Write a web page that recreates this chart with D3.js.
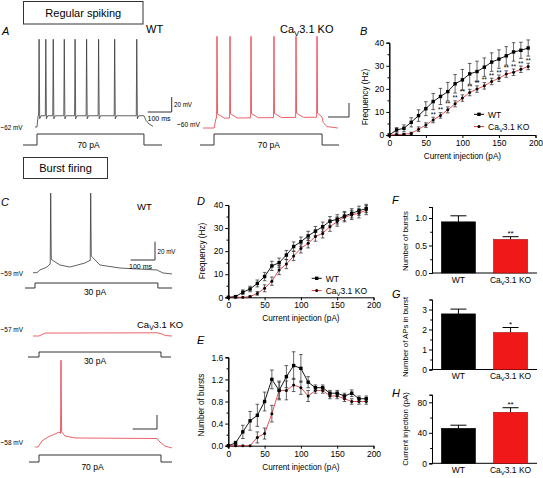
<!DOCTYPE html>
<html><head><meta charset="utf-8">
<script src="https://cdn.jsdelivr.net/npm/d3@7"></script>
<style>body{margin:0;background:#fff}svg text{font-family:"Liberation Sans",Arial,sans-serif}</style>
</head><body>
<svg id="c" width="543" height="478"></svg>
<script>
// ---------------- DATA ----------------
const currentInj = [0,10,20,30,40,50,60,70,80,90,100,110,120,130,140,150,160,170,180,190];
// B: regular spiking frequency (Hz)
const regFreqWT    = [0,2.2,2.9,5.5,8.4,11.4,14.5,16.7,18.8,22.2,23.9,26.5,27.5,29.4,31.6,32.9,34.3,36,36.7,37.7];
const regFreqWTErr = [0,1,1.5,2,2.5,3,3.5,3.5,4,4,4.5,4.5,4.5,4,4,4,4,4,3.5,3.5];
const regFreqKO    = [0,0.2,0.3,0.7,2.5,4.3,6.5,8.5,10.9,13.5,16,18.4,19.9,21.3,23.2,24.6,26.4,27.2,28.5,29.7];
const regFreqKOErr = [0,0.3,0.3,0.5,1,1,1.2,1.2,1.3,1.3,1.4,1.4,1.4,1.4,1.4,1.4,1.4,1.4,1.4,1.4];
const regFreqSig   = ["","","","","","","**","**","**","**","**","**","**","**","**","**","**","**","**","**"];
// D: burst firing frequency (Hz)
const burstFreqWT    = [0,0.3,2.2,3.6,6,9,13.6,15,18.3,22,24.1,26.6,28.7,30.6,33,33.8,35.2,36.4,37.5,38.5];
const burstFreqWTErr = [0,0.3,1,1.2,1.5,1.8,2,2,2,2,2,2,2,2,2,2,2,2,2,1.8];
const burstFreqKO    = [0,0,0,0.3,1.7,3.9,7,11.8,14.4,17.9,21.2,23.4,26.3,27.7,30.6,32.8,34.7,35.7,36.4,37.8];
const burstFreqKOErr = [0,0,0,0.3,0.8,1.5,1.8,2,2,2,2,2,2,2,2,2,2,2,2,2];
// E: number of bursts
const burstsWT    = [0,0.05,0.25,0.45,0.55,0.8,1.2,1.0,1.25,1.45,1.4,1.15,1.05,1.05,0.95,0.95,0.9,0.95,0.85,0.85];
const burstsWTErr = [0,0.03,0.12,0.17,0.2,0.17,0.17,0.15,0.2,0.25,0.25,0.1,0.05,0.05,0.05,0.05,0.05,0.06,0.05,0.05];
const burstsKO    = [0,0,0,0,0.15,0.22,0.58,1.0,1.0,1.1,1.05,0.9,1.0,1.0,0.9,0.9,0.85,0.8,0.8,0.8];
const burstsKOErr = [0,0,0,0,0.1,0.1,0.15,0.17,0.17,0.12,0.12,0.1,0.05,0.05,0.05,0.05,0.05,0.05,0.05,0.05];
// F, G, H bar charts
const groups = ["WT","KO"];
const nBursts = [0.93,0.61], nBurstsErr = [0.11,0.05], nBurstsSig = ["","**"];
const apsInBurst = [2.78,1.85], apsInBurstErr = [0.24,0.25], apsInBurstSig = ["","*"];
const burstCurrent = [45.9,66.9], burstCurrentErr = [4.1,6], burstCurrentSig = ["","**"];
// Voltage traces: subthreshold keypoints [ms, mV], spike times (ms), spike peak (mV)
const traceA_WT_base = [[0,-62],[8.3,-62],[13,-47],[454,-47],[462,-53],[475,-58],[492,-61]];
const traceA_WT_spikes = [17,45,76,122,167,215,265,332,424];
const traceA_WT_peak = 55;
const traceA_KO_base = [[0,-60],[53,-60],[62,-46],[567,-44.5],[572,-52],[590,-58],[643,-60]];
const traceA_KO_spikes = [66.7,128.6,228.6,338,443,543];
const traceA_KO_peak = 71;
const traceC_WT_base = [[0,-59],[16.5,-59],[28.8,-56],[57.6,-52.8],[70,-49.5],[111,-50.6],[152,-52.8],[214,-48.4],[234.6,-45.5],[275.7,-50.6],[358,-53.9],[510,-56],[535,-59.3],[572,-60.4]];
const traceC_WT_spikes = [72.8,237.4];
const traceC_WT_peak = 28;
const traceC_KO30_base = [[0,-57],[24.7,-57],[50,-53.8],[510,-53.5],[526.7,-54.5],[545,-56.5],[572,-57]];
const traceC_KO70_base = [[8,-58],[20.6,-58],[37,-49.4],[61.7,-43.7],[90.5,-39.4],[107,-36.6],[131.7,-42.3],[172.8,-45.1],[510,-45.9],[522.6,-50.9],[543,-56.6],[572,-59.4]];
const traceC_KO70_spikes = [115.2];
const traceC_KO70_peak = 66;
// current steps: [start, on, off, end] ms, amplitude pA
const stepA_WT = [-50,8.3,454,529], stepA_WT_amp = 70;
const stepA_KO = [-14.3,52.4,567,648], stepA_KO_amp = 70;
const stepC_WT = [-33,8.2,514,572], stepC_WT_amp = 30;
const stepC_KO30 = [-20.6,24.7,526.7,568], stepC_KO30_amp = 30;
const stepC_KO70 = [-16.5,24.7,526.7,572], stepC_KO70_amp = 70;

// ---------------- DRAW ----------------
const svg = d3.select('#c');
const RED = '#e63a42', BARRED = '#f01818', TRACEGRAY = '#3a3a3a';
const FF = '"Liberation Sans",Arial,sans-serif';

function txt(x, y, s, size, opts={}) {
  const t = svg.append('text').attr('x', x).attr('y', y).attr('font-size', size)
    .attr('text-anchor', opts.anchor || 'start').attr('fill', opts.fill || '#000');
  if (opts.italic) t.attr('font-style', 'italic');
  if (opts.len) t.attr('textLength', opts.len).attr('lengthAdjust', 'spacingAndGlyphs');
  t.text(s);
  return t;
}
function caLabel(parent, x, y, size, anchor, rotate) {
  const t = parent.append('text').attr('x', x).attr('y', y).attr('font-size', size)
    .attr('text-anchor', anchor || 'start');
  if (rotate) t.attr('transform', rotate);
  t.append('tspan').text('Ca');
  t.append('tspan').attr('font-size', size * 0.7).attr('dy', size * 0.25).text('V');
  t.append('tspan').attr('dy', -size * 0.25).text('3.1 KO');
  return t;
}

// boxes
function box(x, y, w, h, s) {
  svg.append('rect').attr('x', x).attr('y', y).attr('width', w).attr('height', h)
    .attr('fill', 'none').attr('stroke', '#333').attr('stroke-width', 1);
  txt(x + w / 2, y + h / 2 + 4, s, 11, {anchor: 'middle'});
}
box(23.5, 1.5, 119.5, 22.5, 'Regular spiking');
box(23.5, 157.5, 84, 21, 'Burst firing');

// panel letters
[['A',2,35],['B',360,35],['C',1,206],['D',197,205],['E',197,344],['F',392,204],['G',392,298],['H',392,397]]
  .forEach(([l,x,y]) => txt(x, y, l, 11, {italic: true}));

// ---- traces ----
function tracePoints(base, spikes, peak, post, rec) {
  const interp = t => {
    for (let i = 1; i < base.length; i++) {
      if (t <= base[i][0]) {
        const [t0, v0] = base[i-1], [t1, v1] = base[i];
        return v0 + (v1 - v0) * (t - t0) / (t1 - t0);
      }
    }
    return base[base.length-1][1];
  };
  let pts = base.filter(d => !spikes.some(ts => d[0] > ts - 2 && d[0] < ts + 2.5)).map(d => d.slice());
  spikes.forEach((ts, i) => {
    const bv = interp(ts);
    pts.push([ts - 2, bv], [ts, peak], [ts + 2.5, bv + post]);
    const nxt = spikes[i+1];
    if (rec && (nxt === undefined || nxt - ts > rec + 4)) pts.push([ts + rec, interp(ts + rec)]);
  });
  pts.sort((a, b) => a[0] - b[0]);
  return pts;
}
function drawTrace(pts, xs, ys, color) {
  svg.append('path').attr('d', d3.line().x(d => xs(d[0])).y(d => ys(d[1]))(pts))
    .attr('fill', 'none').attr('stroke', color).attr('stroke-width', 0.8).attr('stroke-linejoin', 'round');
}
function drawStep(step, amp, xs, yLow, yHigh, lx, ly) {
  const cs = d3.scaleLinear().domain([0, amp]).range([yLow, yHigh]);
  const pts = [[step[0],0],[step[1],0],[step[1],amp],[step[2],amp],[step[2],0],[step[3],0]];
  svg.append('path').attr('d', d3.line().x(d => xs(d[0])).y(d => cs(d[1]))(pts))
    .attr('fill', 'none').attr('stroke', '#333').attr('stroke-width', 1);
  txt(lx, ly, amp + ' pA', 8.5, {anchor: 'middle'});
}
function scaleBar(xs, ys, cx, cy) {
  const w = xs(100) - xs(0), h = Math.abs(ys(20) - ys(0));
  svg.append('path').attr('d', `M${cx - w},${cy}H${cx}V${cy - h}`)
    .attr('fill', 'none').attr('stroke', '#333').attr('stroke-width', 1);
}
function mkScales(x0, pxPer100ms, rest, yRest, pxPer20mV) {
  return [d3.scaleLinear().domain([0, 100]).range([x0, x0 + pxPer100ms]),
          d3.scaleLinear().domain([rest, rest + 20]).range([yRest, yRest - pxPer20mV])];
}

// A WT
let [xs, ys] = mkScales(35, 24, -62, 127, 15);
drawTrace(tracePoints(traceA_WT_base, traceA_WT_spikes, traceA_WT_peak, -4, 8), xs, ys, TRACEGRAY);
drawStep(stepA_WT, stepA_WT_amp, xs, 145, 134, 88.5, 148);
scaleBar(xs, ys, 171.7, 112);
txt(174, 106.5, '20 mV', 8, {len: 18});
txt(147.5, 121, '100 ms', 8, {len: 23});
txt(0.5, 130, '\u221262 mV', 8, {len: 22});
txt(146, 33, 'WT', 11);
// A KO
[xs, ys] = mkScales(203, 21, -60, 128, 14);
drawTrace(tracePoints(traceA_KO_base, traceA_KO_spikes, traceA_KO_peak, 6, 35), xs, ys, RED);
drawStep(stepA_KO, stepA_KO_amp, xs, 145, 134, 268.8, 148);
scaleBar(xs, ys, 349, 117);
txt(177, 127, '\u221260 mV', 8, {len: 23});
caLabel(svg, 280, 33, 11, 'start');

// C WT
[xs, ys] = mkScales(33, 24.3, -59, 272.7, 18.3);
drawTrace(tracePoints(traceC_WT_base, traceC_WT_spikes, traceC_WT_peak, 5, 0), xs, ys, TRACEGRAY);
drawStep(stepC_WT, stepC_WT_amp, xs, 288, 283, 95, 294.5);
scaleBar(xs, ys, 155, 260);
txt(157.5, 254, '20 mV', 8, {len: 18});
txt(129, 268.5, '100 ms', 8, {len: 23});
txt(0.5, 275.5, '\u221259 mV', 8, {len: 22.5});
txt(137, 210, 'WT', 9.5);
// C KO 30 pA
[xs, ys] = mkScales(33, 24.3, -57, 336, 18.3);
drawTrace(tracePoints(traceC_KO30_base, [], 0, 0, 0), xs, ys, RED);
drawStep(stepC_KO30, stepC_KO30_amp, xs, 357, 352, 95, 363.5);
txt(0.5, 332, '\u221257 mV', 8, {len: 22.5});
caLabel(svg, 137, 328, 9.5, 'start');
// C KO 70 pA
[xs, ys] = mkScales(33, 24.3, -58, 447, 14);
drawTrace(tracePoints(traceC_KO70_base, traceC_KO70_spikes, traceC_KO70_peak, 2, 0), xs, ys, RED);
drawStep(stepC_KO70, stepC_KO70_amp, xs, 462, 455, 92.5, 469.5);
scaleBar(xs, ys, 157, 429);
txt(0.5, 444.5, '\u221258 mV', 8, {len: 22.5});

// ---- line charts ----
function styleAxis(g) {
  g.attr('font-family', FF).attr('font-size', 8.5);
  g.selectAll('.domain').attr('stroke', '#000').attr('stroke-width', 1);
  g.selectAll('.tick line').attr('stroke', '#000');
}
function lineChart(cfg) {
  const x = d3.scaleLinear().domain([0, 200]).range([cfg.x0, cfg.x1]);
  const y = d3.scaleLinear().domain(cfg.yDom).range([cfg.y0, cfg.y1]);
  const g = svg.append('g');
  g.append('g').attr('transform', `translate(${cfg.x0},0)`)
    .call(d3.axisLeft(y).tickValues(cfg.yMinor).tickSize(1.8).tickFormat(''))
    .call(styleAxis);
  g.append('g').attr('transform', `translate(${cfg.x0},0)`)
    .call(d3.axisLeft(y).tickValues(cfg.yTicks).tickSize(3).tickPadding(2).tickFormat(cfg.yFmt))
    .call(styleAxis);
  g.append('g').attr('transform', `translate(0,${cfg.y0})`)
    .call(d3.axisBottom(x).tickValues([0,50,100,150,200]).tickSize(3).tickPadding(2))
    .call(styleAxis);
  g.append('text').attr('x', (cfg.x0 + cfg.x1) / 2).attr('y', cfg.y0 + 24).attr('text-anchor', 'middle')
    .attr('font-size', 8.2).text('Current injection (pA)');
  g.append('text').attr('transform', `translate(${cfg.ytx},${cfg.yty}) rotate(-90)`).attr('text-anchor', 'middle')
    .attr('font-size', 8.2).text(cfg.ytitle);
  const line = d3.line().x((d, i) => x(currentInj[i])).y(d => y(d));
  [[cfg.ko, cfg.koErr, RED, 'dot'], [cfg.wt, cfg.wtErr, '#000', 'sq']].forEach(([vals, errs, col, mk]) => {
    g.append('path').attr('d', line(vals)).attr('fill', 'none').attr('stroke', col).attr('stroke-width', 0.9);
    vals.forEach((v, i) => {
      const cx = x(currentInj[i]);
      if (errs[i] > 0) {
        const yt = y(v + errs[i]), yb = y(Math.max(cfg.yDom[0], v - errs[i]));
        g.append('path').attr('d', `M${cx},${yt}V${yb}M${cx-1.8},${yt}H${cx+1.8}M${cx-1.8},${yb}H${cx+1.8}`)
          .attr('stroke', '#222').attr('stroke-width', 0.7).attr('fill', 'none');
      }
      if (mk === 'sq') g.append('rect').attr('x', cx - 1.7).attr('y', y(v) - 1.7).attr('width', 3.4).attr('height', 3.4).attr('fill', '#000');
      else g.append('circle').attr('cx', cx).attr('cy', y(v)).attr('r', 1.5).attr('fill', '#000');
    });
  });
  if (cfg.sig) cfg.sig.forEach((s, i) => {
    if (s) g.append('text').attr('x', x(currentInj[i])).attr('y', y(cfg.ko[i] + cfg.koErr[i]) - 0.5)
      .attr('text-anchor', 'middle').attr('font-size', 6.5).text(s);
  });
  if (cfg.leg) {
    const [lx, ly] = cfg.leg;
    g.append('line').attr('x1', lx).attr('x2', lx + 10).attr('y1', ly).attr('y2', ly).attr('stroke', '#000');
    g.append('rect').attr('x', lx + 3.3).attr('y', ly - 1.7).attr('width', 3.4).attr('height', 3.4);
    g.append('text').attr('x', lx + 14).attr('y', ly + 3.2).attr('font-size', 8.5).text('WT');
    g.append('line').attr('x1', lx).attr('x2', lx + 10).attr('y1', ly + 12.3).attr('y2', ly + 12.3).attr('stroke', RED);
    g.append('circle').attr('cx', lx + 5).attr('cy', ly + 12.3).attr('r', 1.5);
    caLabel(g, lx + 14, ly + 15.5, 8.5, 'start');
  }
}
lineChart({x0: 389.3, x1: 535.5, y0: 135, y1: 42.7, yDom: [0, 40], yTicks: [0,10,20,30,40], yMinor: [5,15,25,35],
  yFmt: d3.format('d'), ytitle: 'Frequency (Hz)', ytx: 368, yty: 97,
  wt: regFreqWT, wtErr: regFreqWTErr, ko: regFreqKO, koErr: regFreqKOErr, sig: regFreqSig, leg: [474, 114.3]});
lineChart({x0: 228.3, x1: 373.5, y0: 297.3, y1: 205, yDom: [0, 40], yTicks: [0,10,20,30,40], yMinor: [5,15,25,35],
  yFmt: d3.format('d'), ytitle: 'Frequency (Hz)', ytx: 205, yty: 251,
  wt: burstFreqWT, wtErr: burstFreqWTErr, ko: burstFreqKO, koErr: burstFreqKOErr, leg: [311.7, 278.3]});
lineChart({x0: 228.3, x1: 373.5, y0: 445.7, y1: 357.3, yDom: [0, 1.6], yTicks: [0,0.4,0.8,1.2,1.6], yMinor: [0.2,0.6,1.0,1.4],
  yFmt: d3.format('.1f'), ytitle: 'Number of bursts', ytx: 204, yty: 405,
  wt: burstsWT, wtErr: burstsWTErr, ko: burstsKO, koErr: burstsKOErr});

// ---- bar charts ----
function barChart(cfg) {
  const x = d3.scaleBand().domain(groups).range([432, 537]).paddingInner(0.346).paddingOuter(0.18);
  const y = d3.scaleLinear().domain(cfg.yDom).range([cfg.y0, cfg.y1]);
  const g = svg.append('g');
  g.append('g').attr('transform', `translate(432,0)`)
    .call(d3.axisLeft(y).tickValues(cfg.yMinor).tickSize(1.8).tickFormat('')).call(styleAxis);
  g.append('g').attr('transform', `translate(432,0)`)
    .call(d3.axisLeft(y).tickValues(cfg.yTicks).tickSize(3).tickPadding(2).tickFormat(cfg.yFmt)).call(styleAxis);
  g.append('line').attr('x1', 432).attr('x2', 537).attr('y1', cfg.y0).attr('y2', cfg.y0).attr('stroke', '#000');
  cfg.vals.forEach((v, i) => {
    const bx = x(groups[i]), bw = x.bandwidth(), cx = bx + bw / 2;
    const yt = y(v), ye = y(v + cfg.errs[i]);
    g.append('path').attr('d', `M${cx},${yt}V${ye}M${cx-8},${ye}H${cx+8}`).attr('stroke', '#000').attr('stroke-width', 1).attr('fill', 'none');
    g.append('rect').attr('x', bx).attr('y', yt).attr('width', bw).attr('height', cfg.y0 - yt)
      .attr('fill', i ? BARRED : '#000').attr('stroke', i ? '#a01010' : '#000').attr('stroke-width', 0.6);
    if (cfg.sig[i]) g.append('text').attr('x', cx).attr('y', ye - 1).attr('text-anchor', 'middle').attr('font-size', 8).text(cfg.sig[i]);
  });
  g.append('text').attr('x', x('WT') + x.bandwidth() / 2).attr('y', cfg.y0 + 9.5).attr('text-anchor', 'middle').attr('font-size', 8.5).text('WT');
  caLabel(g, x('KO') + x.bandwidth() / 2, cfg.y0 + 9.5, 8.5, 'middle');
  g.append('text').attr('transform', `translate(408,${cfg.yty}) rotate(-90)`).attr('text-anchor', 'middle')
    .attr('font-size', 7.8).text(cfg.ytitle);
}
barChart({y0: 273, y1: 207, yDom: [0, 1.2], yTicks: [0, 0.5, 1.0], yMinor: [0.25, 0.75], yFmt: d3.format('.1f'),
  vals: nBursts, errs: nBurstsErr, sig: nBurstsSig, ytitle: 'Number of bursts', yty: 241});
barChart({y0: 369.5, y1: 299.5, yDom: [0, 3.5], yTicks: [0,1,2,3], yMinor: [0.5,1.5,2.5], yFmt: d3.format('d'),
  vals: apsInBurst, errs: apsInBurstErr, sig: apsInBurstSig, ytitle: 'Number of APs in burst', yty: 337});
barChart({y0: 463.3, y1: 394.7, yDom: [0, 90], yTicks: [0,40,80], yMinor: [20,60], yFmt: d3.format('d'),
  vals: burstCurrent, errs: burstCurrentErr, sig: burstCurrentSig, ytitle: 'Current injection (pA)', yty: 429});
</script>
</body></html>
